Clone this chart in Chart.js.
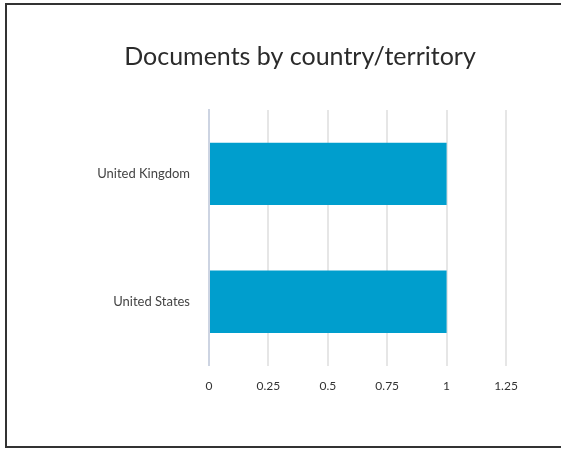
<!DOCTYPE html>
<html>
<head>
<meta charset="utf-8">
<script src="https://cdn.jsdelivr.net/npm/chart.js@4/dist/chart.umd.min.js"></script>
<style>
  html, body { margin: 0; padding: 0; background: #fff; overflow: hidden; }
  #c { position: absolute; left: 0; top: 0; display: block; }
</style>
</head>
<body>
<canvas id="c" width="561" height="449"></canvas>
<script>
// Documents per country/territory
const countries = ["United Kingdom", "United States"];
const documentCounts = [1, 1];
const xTicks = [0, 0.25, 0.5, 0.75, 1, 1.25];
const xTickLabels = ["0", "0.25", "0.5", "0.75", "1", "1.25"];

const FONT = "Lato, 'Open Sans', sans-serif";

// Panel outline: left, top and bottom edges (the right edge runs off the panel)
const panelFrame = {
  id: "panelFrame",
  beforeDraw(chart) {
    const ctx = chart.ctx;
    ctx.save();
    ctx.fillStyle = "#fff";
    ctx.fillRect(0, 0, chart.width, chart.height);
    ctx.strokeStyle = "#333";
    ctx.lineWidth = 2;
    ctx.beginPath();
    ctx.moveTo(chart.width + 2, 4);
    ctx.lineTo(6, 4);
    ctx.lineTo(6, 447);
    ctx.lineTo(chart.width + 2, 447);
    ctx.stroke();
    ctx.restore();
  }
};

new Chart(document.getElementById("c"), {
  type: "bar",
  data: {
    labels: countries,
    datasets: [{
      label: "Documents",
      data: documentCounts,
      backgroundColor: "#009ecd",
      borderWidth: 0,
      categoryPercentage: 0.8,
      barPercentage: 0.61
    }]
  },
  plugins: [panelFrame],
  options: {
    indexAxis: "y",
    responsive: false,
    animation: false,
    devicePixelRatio: 1,
    layout: { padding: { left: 94, right: 55, top: 0, bottom: 43 } },
    plugins: {
      legend: { display: false },
      tooltip: { enabled: false },
      title: {
        display: true,
        text: "Documents by country/territory",
        color: "#2b2b2b",
        font: { family: FONT, size: 25, weight: "normal" },
        padding: { top: 42, bottom: 38 }
      }
    },
    scales: {
      x: {
        min: xTicks[0],
        max: xTicks[xTicks.length - 1],
        afterBuildTicks: (axis) => { axis.ticks = xTicks.map(v => ({ value: v })); },
        grid: {
          drawTicks: false,
          lineWidth: 2,
          color: (ctx) => ctx.tick && ctx.tick.value === 0 ? "#cdd4e2" : "#e6e6e6"
        },
        border: { display: false },
        ticks: {
          padding: 13,
          color: "#333",
          font: { family: FONT, size: 12 },
          callback: (value, index) => xTickLabels[index]
        }
      },
      y: {
        grid: { display: false, drawTicks: false },
        border: { display: true, color: "#cdd4e2", width: 2 },
        ticks: {
          padding: 19,
          color: "#444",
          font: { family: FONT, size: 13 }
        },
        afterFit: (axis) => { axis.width = 115; }
      }
    }
  }
});
</script>
</body>
</html>
